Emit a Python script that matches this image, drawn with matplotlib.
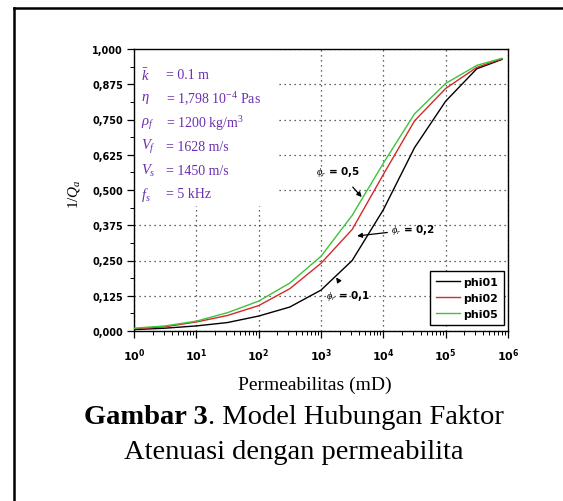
import numpy as np
import matplotlib
matplotlib.use("Agg")
import matplotlib.pyplot as plt
from matplotlib.ticker import MultipleLocator, LogLocator, FixedLocator, NullFormatter
from matplotlib.patches import Rectangle
from matplotlib.lines import Line2D

plt.rcParams['mathtext.fontset'] = 'custom'
plt.rcParams['mathtext.rm'] = 'Liberation Serif'
plt.rcParams['mathtext.it'] = 'Liberation Serif:italic'
plt.rcParams['mathtext.bf'] = 'Liberation Serif:bold'
plt.rcParams['mathtext.sf'] = 'DejaVu Sans:bold'

# ---- data ----
permeability = [1, 3.16, 10, 31.6, 100, 316, 1000, 3162, 10000, 31623, 100000, 316228, 800000]
phi01 = [0.005, 0.010, 0.018, 0.030, 0.053, 0.085, 0.145, 0.250, 0.430, 0.650, 0.815, 0.930, 0.963]
phi02 = [0.008, 0.015, 0.032, 0.055, 0.090, 0.150, 0.240, 0.360, 0.555, 0.745, 0.860, 0.935, 0.965]
phi05 = [0.010, 0.018, 0.035, 0.065, 0.106, 0.170, 0.265, 0.410, 0.595, 0.770, 0.878, 0.942, 0.967]
series_names = ["phi01", "phi02", "phi05"]
series_colors = ["black", "#d42a2a", "#3cc43c"]

ytick_vals = [0.0, 0.125, 0.25, 0.375, 0.5, 0.625, 0.75, 0.875, 1.0]
ytick_labels = ["0,000", "0,125", "0,250", "0,375", "0,500", "0,625", "0,750", "0,875", "1,000"]
xtick_vals = [1, 10, 100, 1000, 10000, 100000, 1000000]

param_lines = [r"$\bar{k}$", r"$\eta$", r"$\rho_f$", r"$V_f$", r"$V_s$", r"$f_s$"]
param_values = [r"= 0.1 m", r"= 1,798 10$^{-4}$ Pas", r"= 1200 kg/m$^3$",
                r"= 1628 m/s", r"= 1450 m/s", r"= 5 kHz"]

W, H = 563, 502
fig = plt.figure(figsize=(W / 100, H / 100), dpi=100)
ax = fig.add_axes([134 / W, 1 - 332 / H, (508 - 134) / W, (332 - 50) / H])
ax.set_axisbelow(True)

for vals, name, col in zip([phi01, phi02, phi05], series_names, series_colors):
    ax.plot(permeability, vals, color=col, lw=1.0, label=name, zorder=3)

ax.set_xscale('log')
ax.set_xlim(1, 1e6)
ax.set_ylim(0, 1)
ax.xaxis.set_major_locator(FixedLocator(xtick_vals))
ax.set_xticklabels([r"$\mathsf{10^{%d}}$" % int(np.log10(v)) for v in xtick_vals], fontsize=8)
ax.xaxis.set_minor_locator(LogLocator(base=10, subs=np.arange(2, 10), numticks=20))
ax.xaxis.set_minor_formatter(NullFormatter())
ax.set_yticks(ytick_vals)
ax.set_yticklabels(ytick_labels, fontsize=7, fontweight='bold', family='DejaVu Sans')
ax.yaxis.set_minor_locator(MultipleLocator(0.0625))
ax.tick_params(which='major', direction='out', length=5, width=0.9, pad=3)
ax.tick_params(axis='x', which='major', pad=6)
ax.tick_params(which='minor', direction='out', length=3, width=0.7)
for s in ax.spines.values():
    s.set_linewidth(1.0)

ax.grid(True, which='major', linestyle=(0, (1, 3)), color='#333333', lw=0.9)

# white area behind the parameter text (covers grid)
ax.add_patch(Rectangle((0.004, 0.445), 0.375, 0.55, transform=ax.transAxes,
                       facecolor='white', edgecolor='none', zorder=1))

purple = '#6a2fb0'
ys = [0.91, 0.825, 0.74, 0.655, 0.57, 0.487]
for lab, val, y in zip(param_lines, param_values, ys):
    ax.text(0.02, y, lab, transform=ax.transAxes, color=purple, fontsize=10.5,
            family='Liberation Serif', va='center', zorder=4)
    ax.text(0.085, y, val, transform=ax.transAxes, color=purple, fontsize=10,
            family='Liberation Serif', va='center', zorder=4)

# annotations
ann_kw = dict(fontsize=7.5, family='DejaVu Sans', fontweight='bold', zorder=5)
ax.annotate(r"$\phi_r$ = 0,5", xy=(4500, 0.475), xytext=(1900, 0.567),
            ha='center', va='center',
            arrowprops=dict(arrowstyle='-|>', color='black', lw=0.9, mutation_scale=7,
                            shrinkA=6, shrinkB=0), **ann_kw)
ax.annotate(r"$\phi_r$ = 0,2", xy=(3800, 0.337), xytext=(13500, 0.36),
            ha='left', va='center',
            arrowprops=dict(arrowstyle='-|>', color='black', lw=0.9, mutation_scale=7,
                            shrinkA=1, shrinkB=0), **ann_kw)
ax.annotate(r"$\phi_r$ = 0,1", xy=(1750, 0.19), xytext=(2750, 0.128),
            ha='center', va='center',
            arrowprops=dict(arrowstyle='-|>', color='black', lw=0.9, mutation_scale=7,
                            shrinkA=5, shrinkB=0), **ann_kw)

leg = ax.legend(loc='lower right', bbox_to_anchor=(0.995, 0.015), fancybox=False,
                framealpha=1, edgecolor='black', handlelength=2.2, handletextpad=0.3,
                borderpad=0.5, labelspacing=0.55, borderaxespad=0.2,
                prop={'family': 'DejaVu Sans', 'weight': 'bold', 'size': 8})
leg.get_frame().set_linewidth(1.0)
leg.set_zorder(6)

ax.set_ylabel(r"$1/Q_a$", fontsize=11)
ax.yaxis.set_label_coords(-0.14, 0.49)
ax.text(0.484, -0.188, "Permeabilitas (mD)", transform=ax.transAxes, ha='center',
        va='center', fontsize=14, family='Liberation Serif')

# caption with mixed weights
fig.canvas.draw()
r = fig.canvas.get_renderer()
cx = 294 / W
cap_size = 20.5
t1 = fig.text(0, 1 - 424 / H, "Gambar 3", fontsize=cap_size, family='Liberation Serif',
              fontweight='bold', va='baseline')
t2 = fig.text(0, 1 - 424 / H, ". Model Hubungan Faktor", fontsize=cap_size,
              family='Liberation Serif', va='baseline')
w1 = t1.get_window_extent(r).width / W
w2 = t2.get_window_extent(r).width / W
x0 = cx - (w1 + w2) / 2
t1.set_x(x0)
t2.set_x(x0 + w1)
fig.text(cx, 1 - 459 / H, "Atenuasi dengan permeabilita", fontsize=cap_size,
         family='Liberation Serif', ha='center', va='baseline')

# outer frame (left and top edges)
fx, fy = 14 / W, 1 - 9 / H
fig.add_artist(Line2D([fx, fx], [0, fy], transform=fig.transFigure, color='black', lw=1.8))
fig.add_artist(Line2D([fx, 1], [fy, fy], transform=fig.transFigure, color='black', lw=1.8))

fig.savefig("out.png", dpi=100, facecolor='white')
